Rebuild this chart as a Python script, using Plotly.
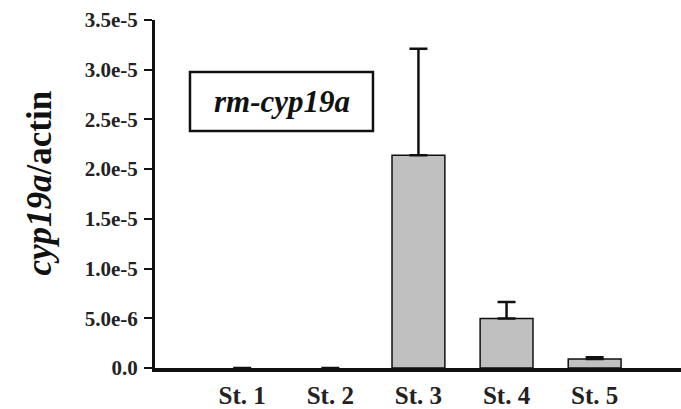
import plotly.graph_objects as go

categories = ["St. 1", "St. 2", "St. 3", "St. 4", "St. 5"]
values = [0.0, 0.0, 2.14e-5, 4.98e-6, 0.9e-6]
errors_plus = [None, None, 1.07e-5, 1.66e-6, 0.17e-6]
tick_vals = [0, 5e-6, 1e-5, 1.5e-5, 2e-5, 2.5e-5, 3e-5, 3.5e-5]
tick_text = ["0.0", "5.0e-6", "1.0e-5", "1.5e-5", "2.0e-5", "2.5e-5", "3.0e-5", "3.5e-5"]

SERIF = "Liberation Serif, Times New Roman, serif"

fig = go.Figure()
fig.add_trace(go.Bar(
    x=categories,
    y=values,
    width=0.6,
    marker=dict(color="#c0c0c0",
                line=dict(color="#111111", width=[0 if v == 0 else 1.5 for v in values])),
    error_y=dict(
        type="data", symmetric=False, array=errors_plus,
        arrayminus=[0] * len(errors_plus),
        color="#111111", thickness=2.5, width=9,
    ),
    showlegend=False,
))

fig.update_layout(
    width=681, height=409,
    margin=dict(l=155, r=0, t=20, b=41),
    paper_bgcolor="white", plot_bgcolor="white",
    font=dict(family=SERIF, color="#222222"),
    xaxis=dict(
        range=[-0.99, 4.98], automargin=False,
        showline=True, linecolor="#111111", linewidth=3.5,
        ticks="", showgrid=False, zeroline=False,
        tickfont=dict(family=SERIF, size=25, color="#222222", weight="bold"),
        ticklabelstandoff=2,
    ),
    yaxis=dict(
        range=[0, 3.5e-5], automargin=False,
        tickvals=tick_vals, ticktext=tick_text,
        showline=True, linecolor="#111111", linewidth=3,
        ticks="outside", ticklen=8, tickwidth=2, tickcolor="#111111",
        showgrid=False, zeroline=False,
        tickfont=dict(family=SERIF, size=21, color="#222222", weight="bold"),
        ticklabelstandoff=2,
    ),
)

# inset label box
fig.add_shape(type="rect", xref="paper", yref="paper",
              x0=0.0665, x1=0.4144, y0=0.681, y1=0.8506,
              line=dict(color="#111111", width=2.5), fillcolor="white")
fig.add_annotation(xref="paper", yref="paper", x=0.2405, y=0.766,
                   xanchor="center", yanchor="middle",
                   text="rm-cyp19a", showarrow=False,
                   font=dict(family=SERIF, size=31, color="#111111",
                             style="italic", weight="bold"))

# y axis title
fig.add_annotation(xref="paper", yref="paper", x=-0.2186, y=0.53,
                   xanchor="center", yanchor="middle",
                   text="<b><i>cyp19a</i>/actin</b>",
                   showarrow=False, textangle=-90,
                   font=dict(family=SERIF, size=35, color="#111111"))

fig.write_html("out.html", config={"displayModeBar": False},
               post_script="document.body.style.margin='0';document.body.style.overflow='hidden';")
